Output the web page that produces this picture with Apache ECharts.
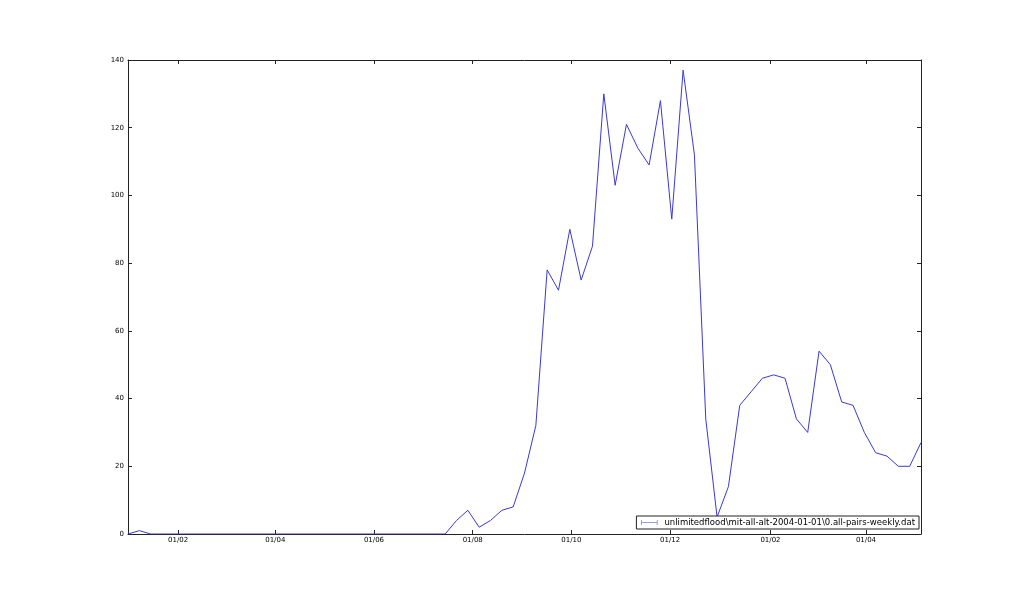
<!DOCTYPE html>
<html>
<head>
<meta charset="utf-8">
<script src="https://cdn.jsdelivr.net/npm/echarts@6/dist/echarts.min.js"></script>
<style>html,body{margin:0;padding:0;background:#fff;}#c{width:1024px;height:593px;}</style>
</head>
<body>
<div id="c"></div>
<script>
// weekly series starting 2004-01-01
var startDate = '2004-01-01';
var seriesName = 'unlimitedflood\\mit-all-alt-2004-01-01\\0.all-pairs-weekly.dat';
var values = [
  0, 1, 0, 0, 0, 0, 0, 0, 0, 0,
  0, 0, 0, 0, 0, 0, 0, 0, 0, 0,
  0, 0, 0, 0, 0, 0, 0, 0, 0, 4,
  7, 2, 4, 7, 8, 18, 32, 78, 72, 90,
  75, 85, 130, 103, 121, 114, 109, 128, 93, 137,
  112, 34, 5, 14, 38, 42, 46, 47, 46, 34,
  30, 54, 50, 39, 38, 30, 24, 23, 20, 20,
  27
];
var tickDates = ['2004-02-01','2004-04-01','2004-06-01','2004-08-01','2004-10-01','2004-12-01','2005-02-01','2005-04-01'];
var tickLabels = ['01/02','01/04','01/06','01/08','01/10','01/12','01/02','01/04'];
var yTicks = [0, 20, 40, 60, 80, 100, 120, 140];

// x position expressed in days since startDate
var DAY = 86400000;
var t0 = Date.parse(startDate + 'T00:00:00Z');
function dayOf(d) { return Math.round((Date.parse(d + 'T00:00:00Z') - t0) / DAY); }
var data = values.map(function (v, i) { return [i * 7, v]; });
var tickDays = tickDates.map(dayOf);
var labelMap = {};
tickDays.forEach(function (t, i) { labelMap[t] = tickLabels[i]; });

var font = 'DejaVu Sans';
var frame = { show: true, onZero: false, lineStyle: { color: '#222', width: 1 } };
function tickIn(vals) {
  var o = { show: true, inside: true, length: 4, lineStyle: { color: '#222' } };
  if (vals) o.customValues = vals;
  return o;
}

function xAxisDef(pos, showLabel) {
  return {
    type: 'value',
    position: pos,
    min: 0,
    max: (values.length - 1) * 7,
    axisLine: frame,
    splitLine: { show: false },
    axisTick: tickIn(tickDays),
    axisLabel: {
      show: showLabel,
      customValues: tickDays,
      formatter: function (v) { return labelMap[v] || ''; },
      fontFamily: font, fontSize: 7, color: '#000', margin: 3
    }
  };
}
function yAxisDef(pos, showLabel) {
  return {
    type: 'value', position: pos, min: 0, max: 140,
    axisLine: frame,
    splitLine: { show: false },
    axisTick: tickIn(yTicks),
    axisLabel: { show: showLabel, customValues: yTicks, fontFamily: font, fontSize: 7, color: '#000', margin: 4 }
  };
}

var chart = echarts.init(document.getElementById('c'), null, { renderer: 'canvas' });
chart.setOption({
  backgroundColor: '#fff',
  animation: false,
  grid: { left: 128, right: 103, top: 60, bottom: 59, containLabel: false },
  xAxis: [xAxisDef('bottom', true), xAxisDef('top', false)],
  yAxis: [yAxisDef('left', true), yAxisDef('right', false)],
  legend: {
    right: 105, bottom: 64,
    orient: 'vertical',
    backgroundColor: '#fff',
    borderColor: '#222', borderWidth: 1, borderRadius: 0,
    padding: [2, 4, 2, 5],
    itemWidth: 16, itemHeight: 5, itemGap: 0,
    textStyle: { fontFamily: font, fontSize: 8.5, color: '#000', padding: [0, 0, 0, 2] },
    data: [{
      name: seriesName,
      icon: 'path://M0,0h1v4.5h30v-4.5h1v10h-1v-4.5h-30v4.5h-1z',
      itemStyle: { color: '#3a3ad0' }
    }]
  },
  series: [{
    name: seriesName,
    type: 'line',
    xAxisIndex: 0, yAxisIndex: 0,
    data: data,
    showSymbol: false,
    symbol: 'none',
    lineStyle: { color: '#3a3ad0', width: 1 },
    itemStyle: { color: '#3a3ad0' }
  }]
});
</script>
</body>
</html>
